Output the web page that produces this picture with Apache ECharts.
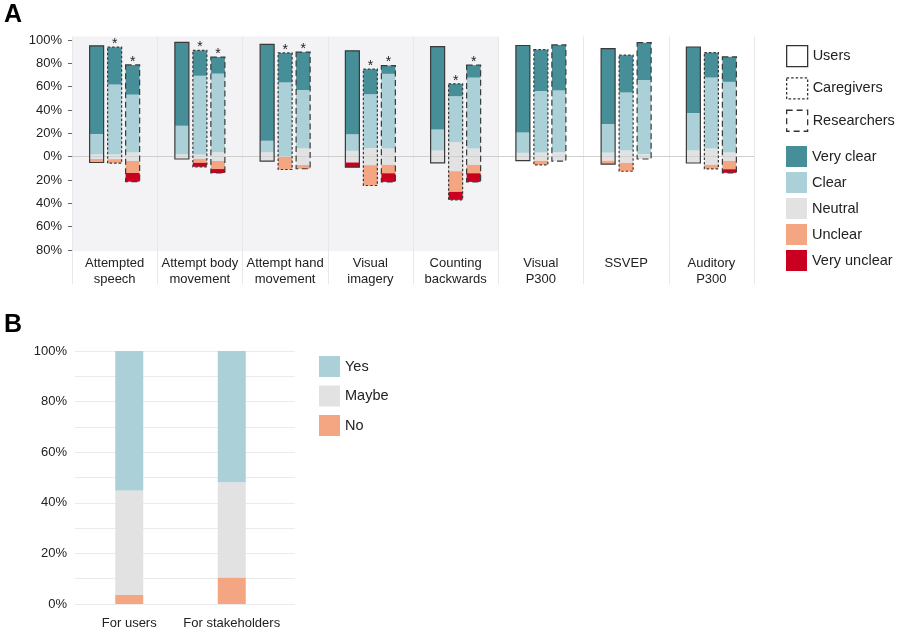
<!DOCTYPE html>
<html><head><meta charset="utf-8">
<script src="https://cdn.jsdelivr.net/npm/echarts@6/dist/echarts.min.js"></script>
<style>html,body{margin:0;padding:0;background:#fff}#c{width:900px;height:632px}</style>
</head><body><div id="c"></div>
<script>
// ---------- Panel A data ----------
const categories = ['Attempted\nspeech','Attempt body\nmovement','Attempt hand\nmovement','Visual\nimagery','Counting\nbackwards','Visual\nP300','SSVEP','Auditory\nP300'];
const groups = ['Users','Caregivers','Researchers'];
const responses = ['Very clear','Clear','Neutral','Unclear','Very unclear'];
const yTicksA = [-80,-60,-40,-20,0,20,40,60,80,100];

const usersVeryClear   = [75.6, 71.5, 82.5, 71.5, 71.0, 74.5, 64.6, 56.6];
const usersClear       = [17.4, 24.5, 10.0, 14.2, 18.0, 17.5, 24.6, 32.0];
const usersNeutral     = [4.0, 4.0, 7.5, 10.0, 10.6, 6.6, 6.9, 10.8];
const usersUnclear     = [3.0, 0, 0, 0, 0, 0, 2.9, 0];
const usersVeryUnclear = [0, 0, 0, 4.0, 0, 0, 0, 0];
const usersStar        = [0, 0, 0, 0, 0, 0, 0, 0];

const caregiversVeryClear   = [32.0, 21.7, 25.2, 21.5, 10.6, 35.4, 32.0, 21.4];
const caregiversClear       = [59.7, 67.5, 63.7, 46.2, 39.4, 52.8, 49.7, 60.8];
const caregiversNeutral     = [4.3, 3.7, 0, 14.6, 24.9, 7.0, 10.6, 14.0];
const caregiversUnclear     = [3.4, 3.4, 11.0, 17.4, 17.7, 3.5, 7.2, 3.4];
const caregiversVeryUnclear = [0, 3.4, 0, 0, 6.8, 0, 0, 0];
const caregiversStar        = [1, 1, 1, 1, 1, 0, 0, 0];

const researchersVeryClear   = [25.4, 14.2, 32.5, 7.1, 10.6, 39.0, 32.0, 21.4];
const researchersClear       = [49.5, 67.5, 50.0, 64.0, 60.8, 53.0, 63.7, 60.6];
const researchersNeutral     = [7.4, 7.4, 14.3, 14.0, 14.0, 7.5, 4.0, 7.1];
const researchersUnclear     = [10.3, 6.9, 3.2, 7.2, 7.2, 0, 0, 7.2];
const researchersVeryUnclear = [7.4, 3.4, 0, 7.4, 7.4, 0, 0, 3.1];
const researchersStar        = [1, 1, 1, 1, 1, 0, 0, 0];

// ---------- Panel B data ----------
const bCategories = ['For users','For stakeholders'];
const bYes   = [55.1, 51.9];
const bMaybe = [41.3, 37.6];
const bNo    = [3.6, 10.5];
const yTicksB = [0,20,40,60,80,100];

// ---------- styles ----------
const FONT = 'Liberation Sans, Arial, Helvetica, sans-serif';
const COL = {'Very clear':'#468f98','Clear':'#abd0d7','Neutral':'#e2e2e2','Unclear':'#f4a582','Very unclear':'#ca0020'};
const dashes = {Users:null, Caregivers:[2.5,2], Researchers:[6,3.5]};
const legendBorder = {Users:'solid', Caregivers:[2.5,2], Researchers:[6,4]};
const offsets = {Users:-18, Caregivers:0, Researchers:18};
const bgColors = ['#f3f3f6','#f3f3f6','#f3f3f6','#f3f3f6','#f3f3f6','#ffffff','#ffffff','#ffffff'];

const groupData = {
  Users:{vc:usersVeryClear,c:usersClear,n:usersNeutral,u:usersUnclear,vu:usersVeryUnclear,star:usersStar},
  Caregivers:{vc:caregiversVeryClear,c:caregiversClear,n:caregiversNeutral,u:caregiversUnclear,vu:caregiversVeryUnclear,star:caregiversStar},
  Researchers:{vc:researchersVeryClear,c:researchersClear,n:researchersNeutral,u:researchersUnclear,vu:researchersVeryUnclear,star:researchersStar}
};

const series = [];
// zero line (behind bars)
series.push({type:'line', xAxisIndex:0, yAxisIndex:0, data:[], z:1, silent:true,
  markLine:{silent:true, symbol:'none', label:{show:false}, animation:false,
    lineStyle:{color:'#cfcfcf', width:1, type:'solid'}, data:[{yAxis:0}]}});

groups.forEach(g => {
  const d = groupData[g];
  const mk = (name, vals) => ({type:'bar', name, stack:g, xAxisIndex:0, yAxisIndex:0,
    barWidth:14, barGap:'28.57%', data:vals, itemStyle:{color:COL[name]},
    emphasis:{disabled:true}, animation:false, z:2});
  series.push(mk('Neutral', d.n.map(v => v/2)));
  series.push(mk('Clear', d.c));
  series.push(mk('Very clear', d.vc));
  series.push(mk('Neutral', d.n.map(v => -v/2)));
  series.push(mk('Unclear', d.u.map(v => -v)));
  series.push(mk('Very unclear', d.vu.map(v => -v)));
});

groups.forEach(g => {
  const d = groupData[g];
  const data = categories.map((_, i) => [i,
    d.n[i]/2 + d.c[i] + d.vc[i],
    -(d.n[i]/2 + d.u[i] + d.vu[i]),
    d.star[i]]);
  series.push({type:'custom', name:g, xAxisIndex:0, yAxisIndex:0, z:5, animation:false,
    encode:{x:0, y:[1,2]}, data,
    renderItem:(params, api) => {
      const top = api.coord([api.value(0), api.value(1)]);
      const bot = api.coord([api.value(0), api.value(2)]);
      const cx = top[0] + offsets[g];
      const children = [{type:'rect', shape:{x:cx-7, y:top[1], width:14, height:bot[1]-top[1]},
        style:{fill:'none', stroke:'#3a3a3a', lineWidth:1.2, lineDash:dashes[g]}}];
      if (api.value(3)) {
        children.push({type:'text', style:{text:'*', x:cx, y:top[1]-3, align:'center',
          verticalAlign:'middle', fontSize:14, fontFamily:FONT, fill:'#222'}});
      }
      return {type:'group', children};
    }});
});

// Panel B bars
[['No', bNo, '#f4a582'], ['Maybe', bMaybe, '#e2e2e2'], ['Yes', bYes, '#abd0d7']].forEach(([name, vals, color]) => {
  series.push({type:'bar', name, stack:'b', xAxisIndex:2, yAxisIndex:2, barWidth:28,
    data: vals, itemStyle:{color}, emphasis:{disabled:true}, animation:false});
});

const chart = echarts.init(document.getElementById('c'), null, {renderer:'canvas'});
chart.setOption({
  animation:false,
  textStyle:{fontFamily:FONT},
  title:[
    {text:'A', left:4, top:3, padding:0, textStyle:{fontSize:25, fontWeight:'bold', color:'#000', fontFamily:FONT}},
    {text:'B', left:4, top:313, padding:0, textStyle:{fontSize:25, fontWeight:'bold', color:'#000', fontFamily:FONT}}
  ],
  legend:[
    {data: groups.map(g => ({name:g, itemStyle:{color:'#ffffff', borderColor:'#333', borderWidth:1.3, borderType:legendBorder[g]}})),
     orient:'vertical', left:781, top:40, itemWidth:21, itemHeight:21, itemGap:10, icon:'rect',
     selectedMode:false, textStyle:{fontSize:14.5, color:'#222', fontFamily:FONT}, itemStyle:{borderWidth:1.3}},
    {data: responses, orient:'vertical', left:781, top:141, itemWidth:21, itemHeight:21, itemGap:5, icon:'rect',
     selectedMode:false, textStyle:{fontSize:14.5, color:'#222', fontFamily:FONT}},
    {data:['Yes','Maybe','No'], orient:'vertical', left:314, top:351, itemWidth:21, itemHeight:21, itemGap:8.5, icon:'rect',
     selectedMode:false, textStyle:{fontSize:14.5, color:'#222', fontFamily:FONT}}
  ],
  grid:[
    {left:72, top:36.5, width:682, height:214.7, containLabel:false},
    {left:75, top:351, width:220, height:253, containLabel:false},
    {left:78, top:351, width:205, height:253, containLabel:false}
  ],
  xAxis:[
    {type:'category', gridIndex:0, data:categories,
     axisLine:{show:false, onZero:false},
     axisTick:{show:true, length:33, interval:0, lineStyle:{color:'#e8e8ec'}},
     axisLabel:{interval:0, fontSize:13, lineHeight:16, color:'#222', margin:4, fontFamily:FONT},
     splitLine:{show:true, interval:0, lineStyle:{color:'#e8e8ec'}},
     splitArea:{show:true, interval:0, areaStyle:{color:bgColors}}},
    {type:'category', gridIndex:1, data:bCategories, show:false},
    {type:'category', gridIndex:2, data:bCategories,
     axisLine:{show:false}, axisTick:{show:false}, splitLine:{show:false},
     axisLabel:{interval:0, fontSize:13, color:'#222', margin:13, fontFamily:FONT}}
  ],
  yAxis:[
    {type:'value', gridIndex:0, min:-81, max:103,
     axisLine:{show:false}, splitLine:{show:false},
     axisTick:{show:true, length:4, customValues:yTicksA, lineStyle:{color:'#666'}},
     axisLabel:{customValues:yTicksA, formatter:v => Math.abs(v) + '%', fontSize:13, color:'#222', margin:10, fontFamily:FONT}},
    {type:'value', gridIndex:1, min:0, max:100, interval:10,
     axisLine:{show:false}, axisTick:{show:false},
     splitLine:{show:true, lineStyle:{color:'#ebebeb'}},
     axisLabel:{customValues:yTicksB, formatter:v => v + '%', fontSize:13, color:'#222', margin:8, fontFamily:FONT}},
    {type:'value', gridIndex:2, min:0, max:100, show:false}
  ],
  series
});
</script>
</body></html>
